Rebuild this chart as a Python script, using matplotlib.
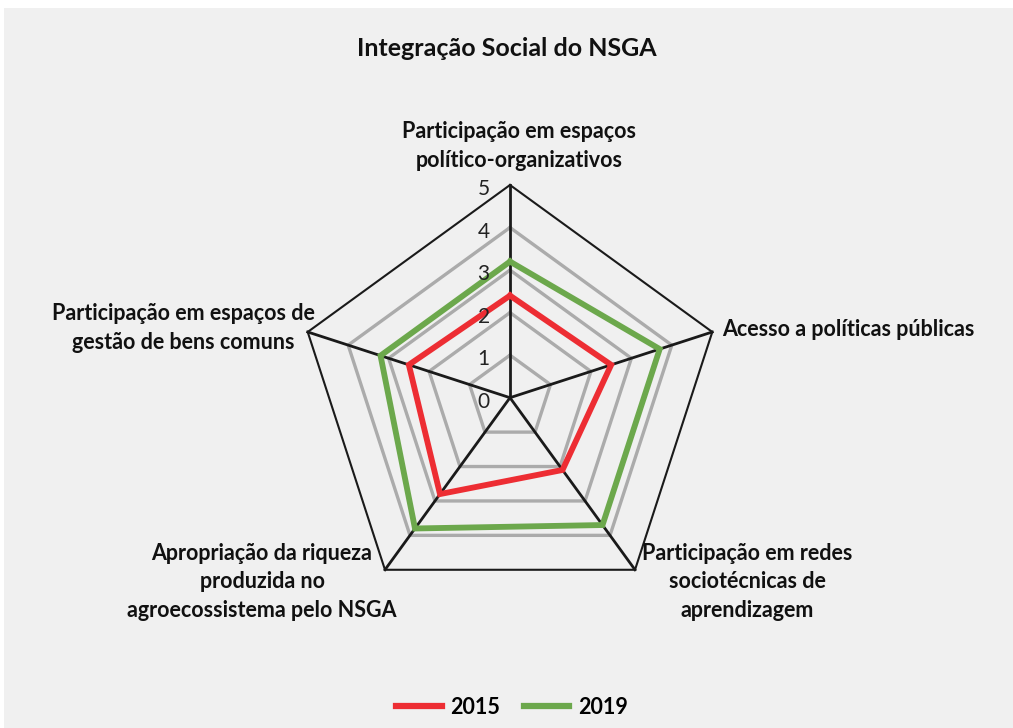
import numpy as np
import matplotlib
matplotlib.use("Agg")
import matplotlib.pyplot as plt
from matplotlib.patches import Rectangle
from matplotlib.lines import Line2D

plt.rcParams['font.family'] = ['Lato', 'DejaVu Sans']

title = "Integração Social do NSGA"
categories = [
    "Participação em espaços\npolítico-organizativos",
    "Acesso a políticas públicas",
    "Participação em redes\nsociotécnicas de\naprendizagem",
    "Apropriação da riqueza\nproduzida no\nagroecossistema pelo NSGA",
    "Participação em espaços de\ngestão de bens comuns",
]
series_names = ["2015", "2019"]
values_2015 = [2.4, 2.5, 2.1, 2.8, 2.5]
values_2019 = [3.2, 3.7, 3.7, 3.8, 3.2]
ticks = [0, 1, 2, 3, 4, 5]

W, H = 1013, 728
fig = plt.figure(figsize=(W / 100, H / 100), dpi=100)
fig.patch.set_facecolor('white')
fig.patches.append(Rectangle((4 / W, 0), 1, 1 - 8 / H, transform=fig.transFigure,
                             facecolor='#F0F0F0', edgecolor='none', zorder=-5))

cx, cy, R = 510, 728 - 397.7, 212.7
ax = fig.add_axes([(cx - R) / W, (cy - R) / H, 2 * R / W, 2 * R / H], projection='polar')
ax.set_zorder(2)
ax.set_facecolor('none')
ax.set_theta_offset(np.pi / 2)
ax.set_theta_direction(-1)
ax.set_ylim(0, ticks[-1])
ax.grid(False)
ax.spines['polar'].set_visible(False)
ax.set_xticks([])
ax.set_yticks([])

n = len(categories)
angles = np.linspace(0, 2 * np.pi, n, endpoint=False)
closed = np.append(angles, angles[0])

# grid pentagons
for t in ticks[1:-1]:
    ax.plot(closed, [t] * (n + 1), color='#ABABAB', lw=2.4, zorder=1, clip_on=False)
ax.plot(closed, [ticks[-1]] * (n + 1), color='#1A1A1A', lw=1.5, zorder=2, clip_on=False)
# spokes
for a in angles:
    ax.plot([a, a], [0, ticks[-1]], color='#1A1A1A', lw=2.0, zorder=2, clip_on=False)

colors = ['#ED2D33', '#6CA84C']
for vals, c, name in zip([values_2015, values_2019], colors, series_names):
    ax.plot(closed, vals + vals[:1], color=c, lw=4.2, zorder=3,
            solid_joinstyle='miter', label=name)

# tick labels
for t in ticks:
    ax.annotate(str(t), xy=(0, t), xytext=(-19, -3), textcoords='offset points',
                ha='center', va='center', fontsize=15, color='#222222', zorder=4,
                annotation_clip=False)

# category labels
label_pos = [(519, 146, 'center'), (722, 330, 'left'), (747, 582, 'center'),
             (262, 582, 'center'), (183, 328, 'center')]
for lab, (x, y, ha) in zip(categories, label_pos):
    fig.text(x / W, 1 - y / H, lab, ha=ha, va='center', fontsize=15.5,
             fontweight='bold', color='#111111', linespacing=1.45)

fig.text(507 / W, 1 - 48 / H, title, ha='center', va='center', fontsize=18,
         fontweight='bold', color='#111111')

handles = [Line2D([0], [0], color=c, lw=4.5) for c in colors]
fig.legend(handles, series_names, loc='center', bbox_to_anchor=(512 / W, 1 - 707 / H),
           ncol=2, frameon=False, handlelength=2.1, handletextpad=0.4,
           columnspacing=1.1, prop={'weight': 'bold', 'size': 15.5})

fig.savefig('out.png', dpi=100, facecolor=fig.get_facecolor())
